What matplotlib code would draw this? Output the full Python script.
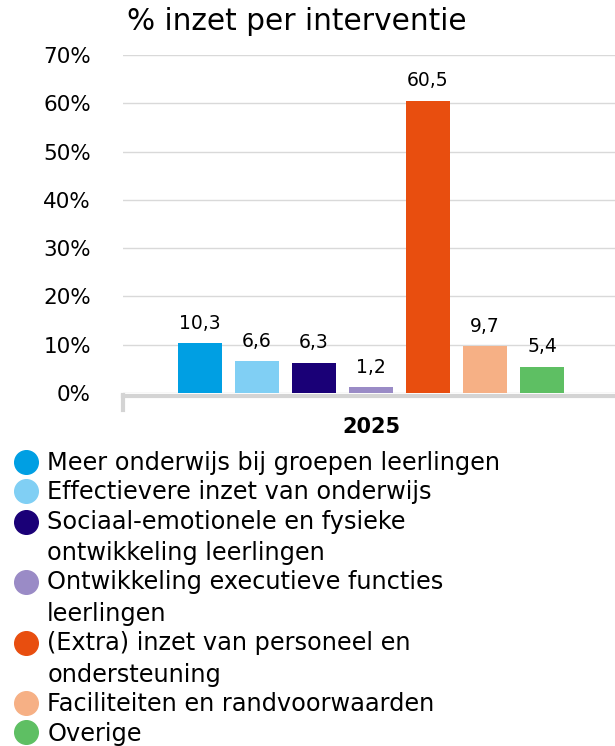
import matplotlib
matplotlib.use("Agg")
import numpy as np
import matplotlib.pyplot as plt
from matplotlib.lines import Line2D
from matplotlib.legend_handler import HandlerLine2D

categories = [
    "Meer onderwijs bij groepen leerlingen",
    "Effectievere inzet van onderwijs",
    "Sociaal-emotionele en fysieke\nontwikkeling leerlingen",
    "Ontwikkeling executieve functies\nleerlingen",
    "(Extra) inzet van personeel en\nondersteuning",
    "Faciliteiten en randvoorwaarden",
    "Overige",
]
values = [10.3, 6.6, 6.3, 1.2, 60.5, 9.7, 5.4]
colors = ["#009FE3", "#80CFF4", "#1A0077", "#9A8BC6", "#E84E0F", "#F6B085", "#5EBF63"]
year = "2025"
yticks = [0, 10, 20, 30, 40, 50, 60, 70]


class FirstLineHandler(HandlerLine2D):
    # put the marker next to the first line of a wrapped label
    def __init__(self, dy, **kw):
        super().__init__(**kw)
        self.dy = dy

    def create_artists(self, legend, orig_handle, xdescent, ydescent, width, height, fontsize, trans):
        artists = super().create_artists(legend, orig_handle, xdescent, ydescent,
                                         width, height, fontsize, trans)
        for a in artists:
            a.set_ydata(np.asarray(a.get_ydata()) + self.dy)
        return artists


fig = plt.figure(figsize=(6.15, 7.46), dpi=100)
ax = fig.add_axes([0.2, 1 - 393 / 746, 0.8, (393 - 55) / 746])

x = list(range(len(values)))
ax.bar(x, values, width=0.77, color=colors, zorder=3)
for xi, v in zip(x, values):
    ax.text(xi, v + 2.2, f"{v:.1f}".replace(".", ","), ha="center", va="bottom", fontsize=13.5)

ax.set_xlim(-1.35, 7.28)
ax.set_ylim(0, 70)
ax.set_yticks(yticks)
ax.set_yticklabels([f"{t}%" for t in yticks], fontsize=15.5)
ax.tick_params(axis="y", length=0, pad=23)
ax.set_xticks([])
ax.grid(axis="y", color="#d9d9d9", lw=1, zorder=0)
for s in ["top", "right", "left"]:
    ax.spines[s].set_visible(False)
ax.spines["bottom"].set_color("#d4d4d4")
ax.spines["bottom"].set_linewidth(3)
ax.spines["bottom"].set_position(("outward", 2))
ax.plot([0, 0], [-0.005, -0.05], transform=ax.transAxes, color="#d4d4d4", lw=3, clip_on=False)
ax.text(3, -0.1, year, transform=ax.get_xaxis_transform(), ha="center", va="center",
        fontsize=15, fontweight="bold")

fig.text(127 / 615, 1 - 22 / 746, "% inzet per interventie", fontsize=21.3, va="center", ha="left")

handles = [Line2D([], [], marker="o", ls="", markersize=17, color=c) for c in colors]
hmap = {h: FirstLineHandler(12.2) for h, lab in zip(handles, categories) if "\n" in lab}
leg = fig.legend(handles, categories, loc="upper left", bbox_to_anchor=(10 / 615, 1 - 451 / 746),
                 frameon=False, fontsize=17.3, labelspacing=0.22, handletextpad=0.25,
                 handlelength=1.3, borderpad=0, borderaxespad=0, handler_map=hmap)
for t in leg.get_texts():
    t.set_linespacing(1.4)

fig.savefig("out.png", dpi=100)
